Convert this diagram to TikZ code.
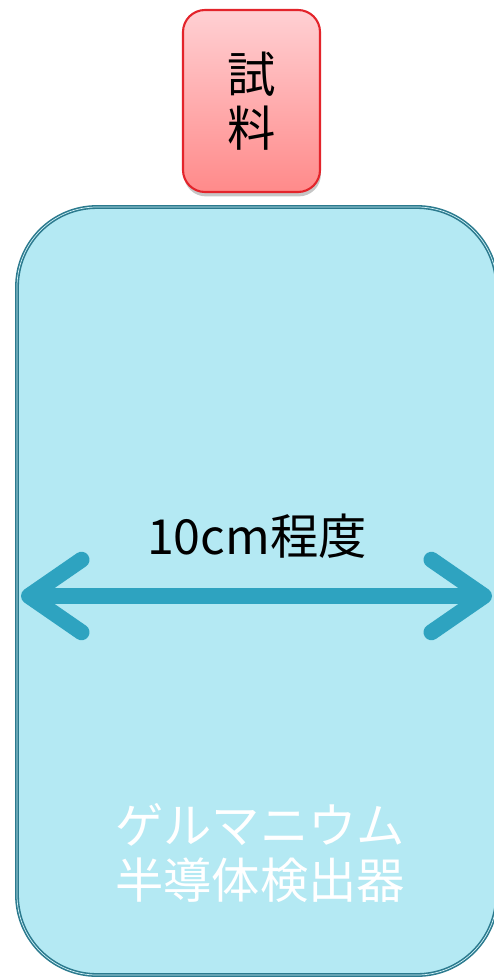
\documentclass[tikz,border=0pt]{standalone}
\usepackage{fontspec}
\setmainfont{Noto Sans CJK JP}
\usetikzlibrary{arrows.meta,shadows}

\definecolor{detfill}{HTML}{B4E9F3}
\definecolor{detline}{HTML}{2B7A8E}
\definecolor{arrowblue}{HTML}{2EA3C0}
\definecolor{sampleline}{HTML}{E3242B}
\definecolor{sampletop}{HTML}{FFD0D3}
\definecolor{samplebottom}{HTML}{FF8A8A}

\tikzset{
    detector/.style={draw=detline, line width=0.9pt, fill=detfill, rounded corners=1.6cm,
        double=detfill!60!white, double distance=0.4pt,
        minimum width=9.6cm, minimum height=15.36cm},
    sample/.style={draw=sampleline, line width=1.2pt, rounded corners=0.44cm,
        top color=sampletop, bottom color=samplebottom,
        drop shadow={shadow xshift=0.5pt, shadow yshift=-2.5pt, opacity=0.45},
        minimum width=2.74cm, minimum height=3.64cm, align=center},
    bigtext/.style={font=\fontsize{27.5}{31}\selectfont, align=center}
}

\begin{document}
\begin{tikzpicture}
        \useasboundingbox (0, 0) rectangle (9.86, -19.54);

        \node [detector] (det) at (5.14, -11.82) {};
        \node [sample, bigtext] (smp) at (5.03, -2.02) {試\\料};

        \node [bigtext] (size) at (5.14, -10.72) {10cm程度};
        \node [bigtext, text=white] (name) at (5.2, -17.06) {ゲルマニウム\\半導体検出器};

        % Arrow
        \coordinate (L) at (0.42, -11.92);
        \coordinate (R) at (9.84, -11.92);
        \draw[arrowblue, line width=0.32cm, line cap=round,
            {Straight Barb[round, length=1.05cm, width=1.45cm]}-{Straight Barb[round, length=1.05cm, width=1.45cm]}] (L) -- (R);
    \end{tikzpicture}
\end{document}
